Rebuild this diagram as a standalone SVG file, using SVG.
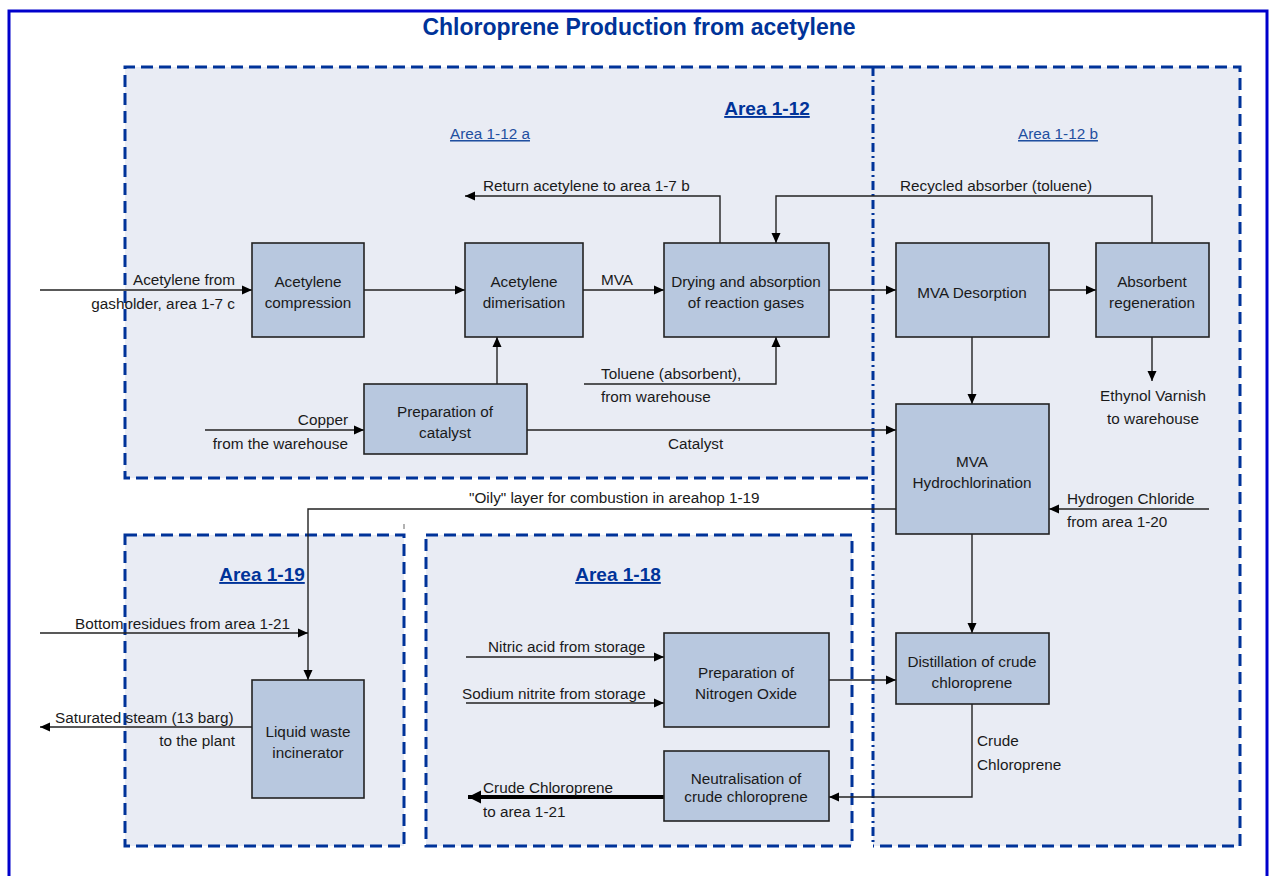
<svg xmlns="http://www.w3.org/2000/svg" width="1272" height="876" viewBox="0 0 1272 876">
<defs>
<marker id="arr" markerUnits="userSpaceOnUse" markerWidth="11" markerHeight="10" refX="10" refY="5" orient="auto"><path d="M0,0.5 L10,5 L0,9.5 z" fill="#000"/></marker>
<marker id="arrB" markerUnits="userSpaceOnUse" markerWidth="14" markerHeight="14" refX="13" refY="7" orient="auto"><path d="M0,0.5 L13,7 L0,13.5 z" fill="#000"/></marker>
<style>
text{font-family:"Liberation Sans",Arial,sans-serif;fill:#1a1a1a;font-size:15.3px}
.c{text-anchor:middle}
.e{text-anchor:end}
.title{font-size:23px;font-weight:bold;fill:#003399}
.ab{font-size:19px;font-weight:bold;fill:#003399;text-decoration:underline}
.as{font-size:15.3px;fill:#1f4fa0;text-decoration:underline}
.area{fill:#e9ecf4;stroke:none}
.dash{fill:none;stroke:#003399;stroke-width:3;stroke-dasharray:12 6}
.dd{fill:none;stroke:#003399;stroke-width:3;stroke-dasharray:9 4 2 4}
.box{fill:#b8c8df;stroke:#222;stroke-width:1.6}
.ln{fill:none;stroke:#222;stroke-width:1.4}
.thick{fill:none;stroke:#000;stroke-width:4}
</style>
</defs>
<rect x="0" y="0" width="1272" height="876" fill="#fff"/>
<rect x="9" y="11" width="1258" height="880" fill="none" stroke="#0000cc" stroke-width="3"/>
<text class="title c" x="639" y="35">Chloroprene Production from acetylene</text>

<g id="areas">
<rect class="area" x="125" y="67" width="748" height="411"/>
<rect class="area" x="873" y="67" width="367" height="779"/>
<rect class="area" x="125" y="535" width="279" height="311"/>
<rect class="area" x="426" y="535" width="426" height="311"/>
<path class="dash" d="M873,67 L125,67 L125,478 L873,478"/>
<path class="dash" d="M873,67 L1240,67 L1240,846 L873,846"/>
<path class="dd" d="M873,67 L873,846"/>
<rect class="dash" x="125" y="535" width="279" height="311"/>
<rect class="dash" x="426" y="535" width="426" height="311"/>
<line x1="404" y1="524" x2="404" y2="529" stroke="#666" stroke-width="1"/>
<text class="ab c" x="767" y="115">Area 1-12</text>
<text class="as c" x="490" y="139">Area 1-12 a</text>
<text class="as c" x="1058" y="139">Area 1-12 b</text>
<text class="ab c" x="262" y="581">Area 1-19</text>
<text class="ab c" x="618" y="581">Area 1-18</text>
</g>

<g id="connectors">
<path class="ln" d="M40,290 L252,290" marker-end="url(#arr)"/>
<path class="ln" d="M364,290 L465,290" marker-end="url(#arr)"/>
<path class="ln" d="M583,290 L664,290" marker-end="url(#arr)"/>
<path class="ln" d="M829,290 L896,290" marker-end="url(#arr)"/>
<path class="ln" d="M1049,290 L1096,290" marker-end="url(#arr)"/>
<path class="ln" d="M720,243 L720,196 L465,196" marker-end="url(#arr)"/>
<path class="ln" d="M1152,243 L1152,196 L776,196 L776,243" marker-end="url(#arr)"/>
<path class="ln" d="M584,384 L776,384 L776,337" marker-end="url(#arr)"/>
<path class="ln" d="M497,384 L497,337" marker-end="url(#arr)"/>
<path class="ln" d="M205,430 L364,430" marker-end="url(#arr)"/>
<path class="ln" d="M527,430 L896,430" marker-end="url(#arr)"/>
<path class="ln" d="M972,337 L972,404" marker-end="url(#arr)"/>
<path class="ln" d="M1152,337 L1152,381" marker-end="url(#arr)"/>
<path class="ln" d="M1209,509 L1049,509" marker-end="url(#arr)"/>
<path class="ln" d="M896,509 L308,509 L308,680" marker-end="url(#arr)"/>
<path class="ln" d="M40,633 L308,633" marker-end="url(#arr)"/>
<path class="ln" d="M252,727 L40,727" marker-end="url(#arr)"/>
<path class="ln" d="M466,657 L664,657" marker-end="url(#arr)"/>
<path class="ln" d="M466,703 L664,703" marker-end="url(#arr)"/>
<path class="ln" d="M829,680 L896,680" marker-end="url(#arr)"/>
<path class="ln" d="M972,534 L972,633" marker-end="url(#arr)"/>
<path class="ln" d="M972,704 L972,797 L829,797" marker-end="url(#arr)"/>
<path class="thick" d="M664,797 L468,797" marker-end="url(#arrB)"/>

<text class="e" x="235" y="285">Acetylene from</text>
<text class="e" x="235" y="309">gasholder, area 1-7 c</text>
<text x="601" y="285">MVA</text>
<text x="483" y="191">Return acetylene to area 1-7 b</text>
<text x="900" y="191">Recycled absorber (toluene)</text>
<text x="601" y="379">Toluene (absorbent),</text>
<text x="601" y="402">from warehouse</text>
<text class="e" x="348" y="425">Copper</text>
<text class="e" x="348" y="449">from the warehouse</text>
<text x="668" y="449">Catalyst</text>
<text class="c" x="1153" y="401">Ethynol Varnish</text>
<text class="c" x="1153" y="424">to warehouse</text>
<text x="1067" y="504">Hydrogen Chloride</text>
<text x="1067" y="527">from area 1-20</text>
<text x="469" y="503">"Oily" layer for combustion in areahop 1-19</text>
<text x="75" y="629">Bottom residues from area 1-21</text>
<text x="55" y="723">Saturated steam (13 barg)</text>
<text class="e" x="235" y="746">to the plant</text>
<text x="488" y="652">Nitric acid from storage</text>
<text x="462" y="699">Sodium nitrite from storage</text>
<text x="977" y="746">Crude</text>
<text x="977" y="770">Chloroprene</text>
<text x="483" y="793">Crude Chloroprene</text>
<text x="483" y="817">to area 1-21</text>
</g>

<g id="n-compression"><rect class="box" x="252" y="243" width="112" height="94"/><text class="c" x="308" y="287">Acetylene</text><text class="c" x="308" y="308">compression</text></g>
<g id="n-dimerisation"><rect class="box" x="465" y="243" width="118" height="94"/><text class="c" x="524" y="287">Acetylene</text><text class="c" x="524" y="308">dimerisation</text></g>
<g id="n-drying"><rect class="box" x="664" y="243" width="165" height="94"/><text class="c" x="746" y="287">Drying and absorption</text><text class="c" x="746" y="308">of reaction gases</text></g>
<g id="n-desorption"><rect class="box" x="896" y="243" width="153" height="94"/><text class="c" x="972" y="298">MVA Desorption</text></g>
<g id="n-regeneration"><rect class="box" x="1096" y="243" width="113" height="94"/><text class="c" x="1152" y="287">Absorbent</text><text class="c" x="1152" y="308">regeneration</text></g>
<g id="n-catalyst"><rect class="box" x="364" y="384" width="163" height="70"/><text class="c" x="445" y="417">Preparation  of</text><text class="c" x="445" y="438">catalyst</text></g>
<g id="n-hydrochlorination"><rect class="box" x="896" y="404" width="153" height="130"/><text class="c" x="972" y="467">MVA</text><text class="c" x="972" y="488">Hydrochlorination</text></g>
<g id="n-distillation"><rect class="box" x="896" y="633" width="153" height="71"/><text class="c" x="972" y="667">Distillation of crude</text><text class="c" x="972" y="688">chloroprene</text></g>
<g id="n-nitrogen"><rect class="box" x="664" y="633" width="165" height="94"/><text class="c" x="746" y="678">Preparation  of</text><text class="c" x="746" y="699">Nitrogen  Oxide</text></g>
<g id="n-neutralisation"><rect class="box" x="664" y="751" width="165" height="70"/><text class="c" x="746" y="784">Neutralisation  of</text><text class="c" x="746" y="802">crude chloroprene</text></g>
<g id="n-incinerator"><rect class="box" x="252" y="680" width="112" height="118"/><text class="c" x="308" y="737">Liquid waste</text><text class="c" x="308" y="758">incinerator</text></g>
</svg>
